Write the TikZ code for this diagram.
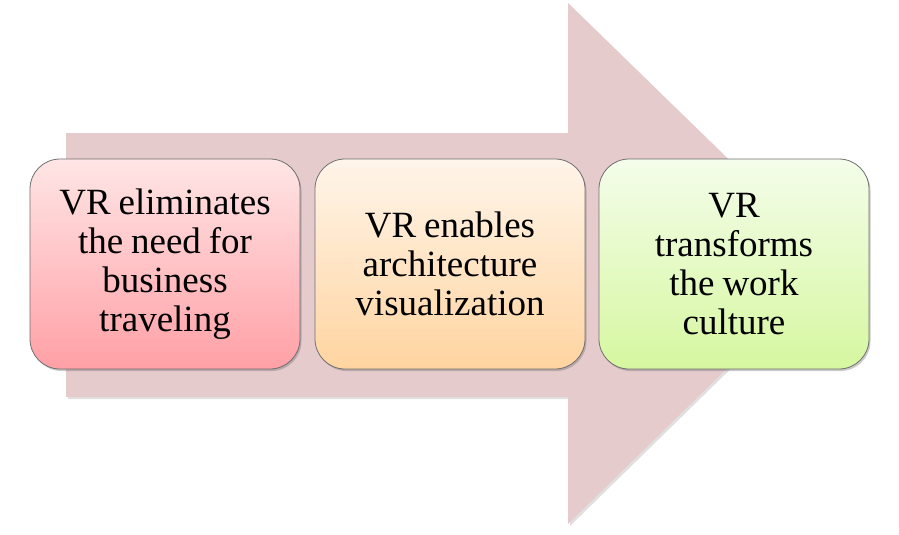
\documentclass[tikz,border=0pt]{standalone}
\usepackage{fontspec}
\setmainfont{Liberation Serif}[WordSpace=0.85]
\usetikzlibrary{shadows}
\definecolor{arrowfill}{HTML}{E6CBCD}
\definecolor{edgegray}{HTML}{6F6F6F}
\tikzset{
  stepbox/.style={draw=edgegray, line width=0.8pt, rounded corners=30pt,
    minimum width=270pt, minimum height=210pt, align=center, inner sep=4pt,
    font=\fontsize{37}{39}\selectfont,
    drop shadow={shadow xshift=1.5pt, shadow yshift=-2pt, opacity=0.35, fill=black!60}},
}
\begin{document}
\begin{tikzpicture}[x=1pt,y=-1pt]
\useasboundingbox (0,0) rectangle (899,535);
\fill[black, opacity=0.12] (68,135) -- (570,135) -- (570,5) -- (837,265) -- (570,526) -- (570,399) -- (68,399) -- cycle;
\fill[arrowfill] (66,133) -- (568,133) -- (568,3) -- (835,263) -- (568,524) -- (568,397) -- (66,397) -- cycle;
\node[stepbox, top color=red!10!white, bottom color={rgb,255:red,255;green,160;blue,166}] (b1) at (165,264) {VR eliminates\\the need for\\business\\traveling};
\node[stepbox, top color={rgb,255:red,255;green,245;blue,234}, bottom color={rgb,255:red,255;green,212;blue,160}] (b2) at (450,264) {VR enables\\architecture\\visualization};
\node[stepbox, top color={rgb,255:red,244;green,253;blue,234}, bottom color={rgb,255:red,214;green,247;blue,160}] (b3) at (734,264) {VR\\transforms\\the work\\culture};
\end{tikzpicture}
\end{document}
